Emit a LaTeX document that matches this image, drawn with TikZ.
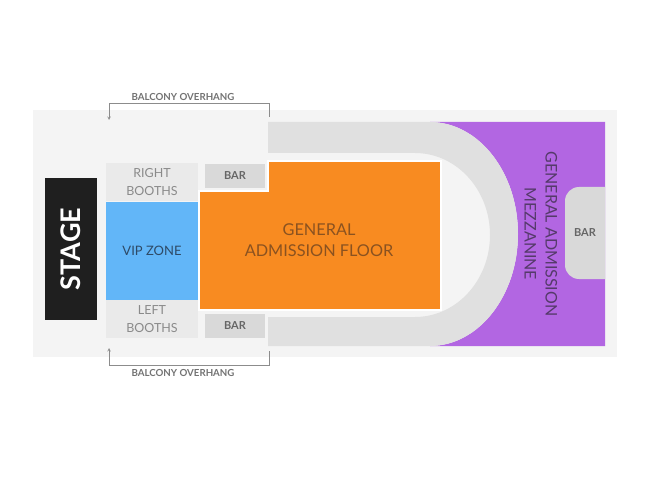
\documentclass[tikz,border=0pt]{standalone}
\usepackage{fontspec}
\setmainfont{Lato}
\tikzset{>=stealth}
\definecolor{hallbg}{HTML}{F4F4F4}
\definecolor{boothgray}{HTML}{EAEAEA}
\definecolor{bargray}{HTML}{D9D9D9}
\definecolor{trackgray}{HTML}{E0E0E0}
\definecolor{vipblue}{HTML}{62B6F8}
\definecolor{floororange}{HTML}{F88B21}
\definecolor{mezzpurple}{HTML}{B266E2}
\definecolor{stageblack}{HTML}{1F1F1F}
\definecolor{floortext}{HTML}{8A5220}
\definecolor{viptext}{HTML}{2E4A66}
\definecolor{mezztext}{HTML}{553A6A}
\definecolor{graytext}{HTML}{8A8A8A}
\tikzset{
  zone/.style={draw=none, inner sep=0pt, align=center},
  bartag/.style={zone, fill=bargray, minimum width=60, minimum height=24,
    text=black!60, font=\bfseries\fontsize{11}{11}\selectfont},
  boothtag/.style={zone, fill=boothgray, minimum width=92, minimum height=38,
    text=graytext, font=\fontsize{12.5}{18}\selectfont},
  overhang/.style={draw=black!45, line width=0.6pt},
  overhangtag/.style={text=black!55, font=\bfseries\fontsize{9.7}{9.7}\selectfont}
}

\begin{document}
\begin{tikzpicture}[x=1pt,y=-1pt]
\useasboundingbox (0,0) rectangle (650,489);
\fill[hallbg] (33,110) rectangle (617,357);

\fill[mezzpurple] (430,122) -- (605,122) -- (605,346) -- (430,346)
  arc[start angle=90, end angle=-90, x radius=88, y radius=112] -- cycle;
\fill[trackgray] (268,122) -- (430,122)
  arc[start angle=-90, end angle=90, x radius=88, y radius=112]
  -- (268,346) -- (268,317) -- (415,317)
  arc[start angle=90, end angle=-90, x radius=75, y radius=82]
  -- (268,153) -- cycle;
\fill[bargray] (605,187) -- (579,187)
  arc[start angle=-90, end angle=-180, radius=14] -- (565,265)
  arc[start angle=180, end angle=90, radius=14] -- (605,279) -- cycle;
\filldraw[fill=floororange, draw=white, line width=1.2pt]
  (199,191) -- (268,191) -- (268,161) -- (441,161) -- (441,310) -- (199,310) -- cycle;

\node[zone, fill=stageblack, rotate=90, minimum width=142, minimum height=52,
  text=white, font=\bfseries\fontsize{27}{27}\selectfont] (stage) at (71,249) {STAGE};
\node[boothtag] (rbooths) at (152,182) {RIGHT\\BOOTHS};
\node[zone, fill=vipblue, minimum width=92, minimum height=99,
  text=viptext, font=\fontsize{13}{13}\selectfont] (vip) at (152,251) {VIP ZONE};
\node[boothtag] (lbooths) at (152,319) {LEFT\\BOOTHS};
\node[bartag] (bartop) at (235,176) {BAR};
\node[bartag] (barbot) at (235,326) {BAR};
\node[zone, text=floortext, font=\fontsize{16.3}{21}\selectfont] (floor) at (319,240)
  {GENERAL\\ADMISSION FLOOR};
\node[zone, rotate=-90, text=mezztext, font=\fontsize{16}{21}\selectfont] (mezz) at (541,234)
  {GENERAL ADMISSION\\MEZZANINE};
\node[zone, text=black!60, font=\bfseries\fontsize{11}{11}\selectfont] (barright) at (585,233) {BAR};

\node[overhangtag] (balctop) at (183,97) {BALCONY OVERHANG};
\node[overhangtag] (balcbot) at (183,373) {BALCONY OVERHANG};
\coordinate (topfrom) at (269,117);
\coordinate (topto) at (109,120);
\coordinate (botfrom) at (269,351);
\coordinate (botto) at (109,348);
\draw[overhang,->] (topfrom) -- ++(0,-14) -| (topto);
\draw[overhang,->] (botfrom) -- ++(0,14) -| (botto);
\end{tikzpicture}
\end{document}
